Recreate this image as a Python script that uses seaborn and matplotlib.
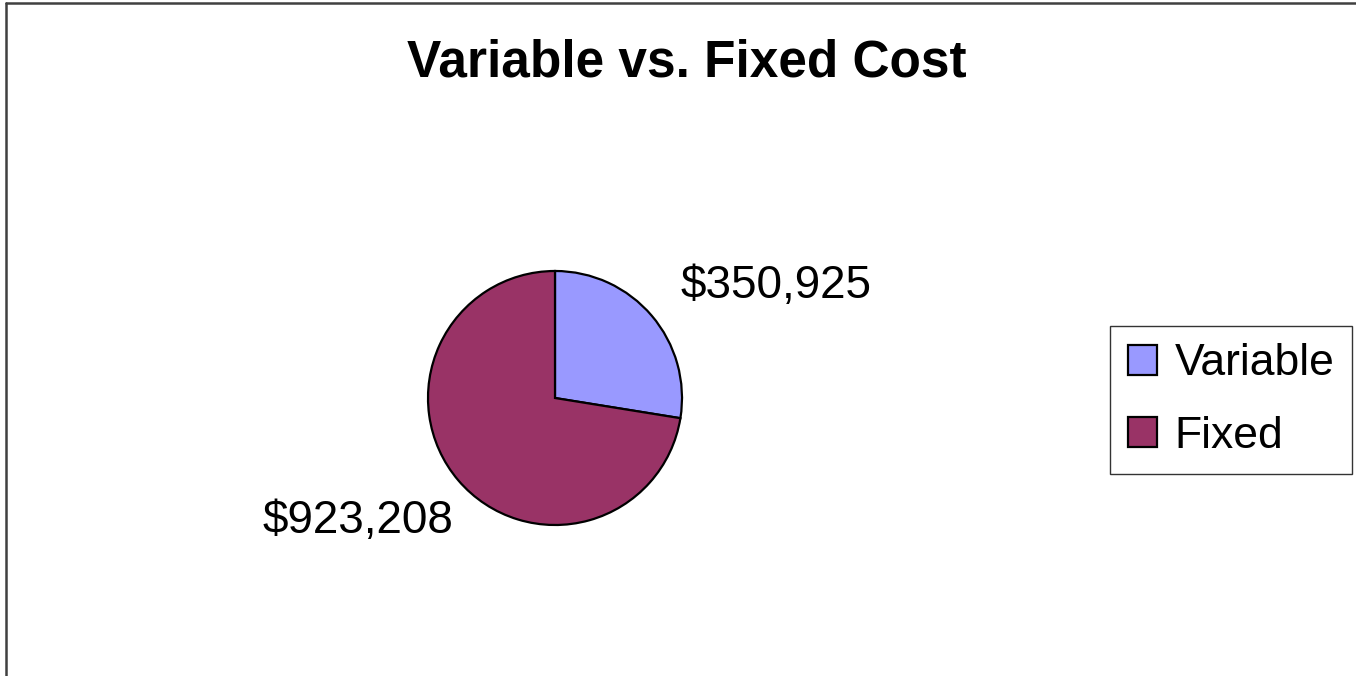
import matplotlib.pyplot as plt
import seaborn as sns
from matplotlib.lines import Line2D

sns.set_theme(style='white')
plt.rcParams['font.family'] = ['Liberation Sans', 'DejaVu Sans']
plt.rcParams['text.color'] = 'black'
plt.rcParams['legend.labelcolor'] = 'black'

# 数据
categories = ['Variable', 'Fixed']
costs = [350925, 923208]
colors = ['#9999FF', '#993366']
labels = ['${:,}'.format(v) for v in costs]

fig = plt.figure(figsize=(13.56, 6.76), dpi=100)
fig.patch.set_facecolor('white')

# 饼图区域 (中心约 555,398 px, 半径约 127 px)
ax = fig.add_axes([428 / 1356, 151 / 676, 254 / 1356, 254 / 676])
wedges, _ = ax.pie(costs, colors=colors, startangle=90, counterclock=False,
                   radius=1, wedgeprops=dict(edgecolor='black', linewidth=1.6))
ax.set_xlim(-1, 1)
ax.set_ylim(-1, 1)
ax.axis('off')

# 数据标签
label_pos = [(1.74, 0.88), (-1.55, -0.97)]
for (x, y), txt in zip(label_pos, labels):
    ax.text(x, y, txt, ha='center', va='center', fontsize=33, color='black')

fig.text(687 / 1356, 1 - 63 / 676, 'Variable vs. Fixed Cost', ha='center', va='center',
         fontsize=37, fontweight='bold', color='black')

leg = fig.legend(wedges, categories, loc='center', bbox_to_anchor=(1231 / 1356, 1 - 400 / 676),
                 fontsize=32, frameon=True, fancybox=False, edgecolor='black',
                 handlelength=0.65, handleheight=0.65, handletextpad=0.4,
                 labelspacing=0.7, borderpad=0.4, borderaxespad=0)
leg.get_frame().set_linewidth(1.0)

# 图框 (左, 上)
fig.add_artist(Line2D([6 / 1356, 6 / 1356], [0, 1 - 3 / 676], color='#404040', linewidth=1.8,
                      transform=fig.transFigure))
fig.add_artist(Line2D([6 / 1356, 1], [1 - 3 / 676, 1 - 3 / 676], color='#404040', linewidth=1.8,
                      transform=fig.transFigure))

fig.savefig('out.png', dpi=100)
